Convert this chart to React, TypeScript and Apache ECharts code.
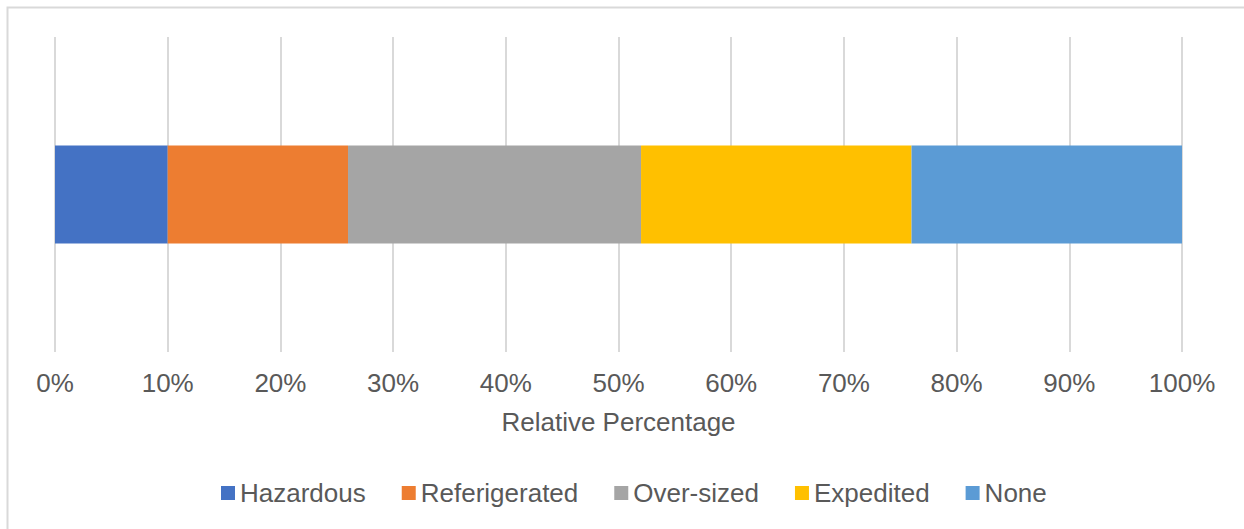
import React, { useEffect, useRef } from "react";
import * as echarts from "echarts";

const categories = ["Freight"];
const seriesNames = ["Hazardous", "Referigerated", "Over-sized", "Expedited", "None"];
const seriesValues = [[10], [16], [26], [24], [24]];
const seriesColors = ["#4472C4", "#ED7D31", "#A5A5A5", "#FFC000", "#5B9BD5"];
const axisName = "Relative Percentage";

export default function App() {
  const ref = useRef<HTMLDivElement>(null);
  useEffect(() => {
    const chart = echarts.init(ref.current!, null, { renderer: "svg" });
    const font = "'Liberation Sans', Arial, sans-serif";
    chart.setOption({
      animation: false,
      textStyle: { fontFamily: font },
      graphic: [
        {
          type: "rect",
          shape: { x: 7.5, y: 7.5, width: 1300, height: 600 },
          style: { fill: "none", stroke: "#d9d9d9", lineWidth: 2 },
          silent: true,
        },
      ],
      grid: { left: 55, right: 62, top: 37, bottom: 177, containLabel: false },
      legend: {
        bottom: 18,
        left: 216,
        itemWidth: 14,
        itemHeight: 14,
        itemGap: 36,
        icon: "rect",
        textStyle: { fontSize: 26, color: "#595959", fontFamily: font },
        data: seriesNames,
      },
      xAxis: {
        type: "value",
        min: 0,
        max: 100,
        interval: 10,
        name: axisName,
        nameLocation: "middle",
        nameGap: 57,
        nameTextStyle: { fontSize: 26, color: "#595959", fontFamily: font },
        axisLine: { show: false },
        axisTick: { show: false },
        axisLabel: {
          formatter: "{value}%",
          fontSize: 26,
          color: "#595959",
          margin: 18,
          fontFamily: font,
        },
        splitLine: { show: true, lineStyle: { color: "#d9d9d9", width: 2 } },
      },
      yAxis: {
        type: "category",
        data: categories,
        axisLine: { show: false },
        axisTick: { show: false },
        axisLabel: { show: false },
      },
      series: seriesNames.map((name, i) => ({
        name,
        type: "bar",
        stack: "total",
        barWidth: 98,
        data: seriesValues[i],
        itemStyle: { color: seriesColors[i] },
      })),
    });
    return () => chart.dispose();
  }, []);
  return (
    <div
      ref={ref}
      style={{ position: "absolute", left: 0, top: 0, width: 1244, height: 529, background: "#fff" }}
    />
  );
}
